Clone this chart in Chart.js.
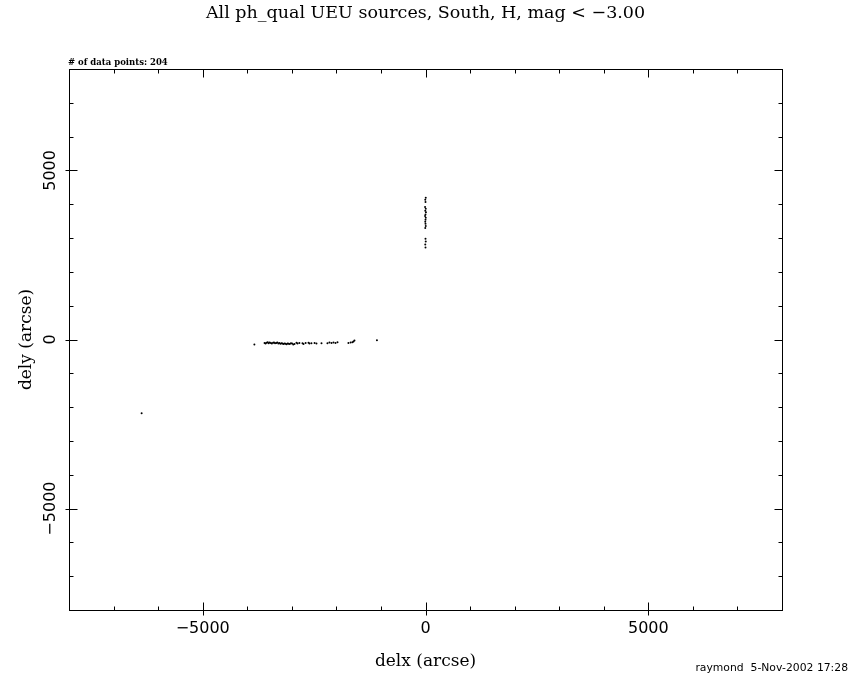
<!DOCTYPE html>
<html>
<head>
<meta charset="utf-8">
<script src="https://cdn.jsdelivr.net/npm/chart.js@4.4.1/dist/chart.umd.min.js"></script>
<style>
  html, body { margin: 0; padding: 0; background: #fff; }
  #wrap { width: 850px; height: 680px; }
</style>
</head>
<body>
<div id="wrap"><canvas id="grafico"></canvas></div>
<script>
// source offsets (arcsec)
const delx = [
  -6370,
  -3840, -3612, -3590, -3566, -3541, -3520, -3497, -3470, -3448, -3421, -3400, -3376,
  -3350, -3327, -3301, -3280, -3255, -3232, -3210, -3188, -3163, -3140, -3118, -3092,
  -3070, -3046, -3020, -2995, -2968, -2940, -2895, -2872, -2830, -2760, -2738, -2690,
  -2625, -2604, -2560, -2490, -2447, -2334, -2200, -2155, -2110, -2065, -2020, -1975,
  -1730, -1680, -1640, -1616, -1594, -1090,
  5, -5, 0, -10, 5, -5, 10, 0, -10, 5, 0, -5, 0, 5, -5, 0, 5, -5, 0
];
const dely = [
  -2180,
  -150, -105, -120, -95, -85, -110, -90, -100, -120, -95, -88, -110,
  -105, -90, -115, -100, -125, -110, -120, -135, -115, -128, -140, -118,
  -125, -130, -110, -120, -145, -130, -95, -120, -105, -110, -130, -100,
  -95, -120, -110, -100, -120, -110, -110, -90, -100, -90, -100, -80,
  -100, -90, -80, -60, -30, -20,
  4190, 4130, 4070, 3920, 3870, 3810, 3760, 3700, 3650, 3600, 3540, 3480, 3420, 3360, 3300, 2980, 2900, 2810, 2720
];

const tituloGrafico = 'All ph_qual UEU sources, South, H, mag < \u22123.00';
const tituloX = 'delx (arcse)';
const tituloY = 'dely (arcse)';
const notaPontos = '# of data points: 204';
const notaAutor = 'raymond  5-Nov-2002 17:28';
const limites = [-8000, 8000];
const passoTick = 1000;
const passoRotulo = 5000;

function rotulo(v) {
  return v % passoRotulo === 0 ? String(v).replace('-', '\u2212') : '';
}

const pontos = delx.map((x, i) => ({ x: x, y: dely[i] }));

// frame with inward ticks on all four sides, y labels rotated, title and notes
const molduraPlugin = {
  id: 'moldura',
  afterDraw(chart) {
    const ctx = chart.ctx;
    const a = chart.chartArea;
    const sx = chart.scales.x;
    const sy = chart.scales.y;
    const L = Math.round(a.left) + 0.5, R = Math.round(a.right) + 0.5;
    const T = Math.round(a.top) + 0.5, B = Math.round(a.bottom) + 0.5;
    ctx.save();
    ctx.strokeStyle = '#000';
    ctx.lineWidth = 1;
    ctx.strokeRect(L, T, R - L, B - T);
    ctx.beginPath();
    sx.ticks.forEach(t => {
      const px = Math.round(sx.getPixelForValue(t.value)) + 0.5;
      const maior = t.value % passoRotulo === 0;
      const len = maior ? 8 : 4;
      ctx.moveTo(px, B + (maior ? 5 : 0)); ctx.lineTo(px, B - len);
      ctx.moveTo(px, T); ctx.lineTo(px, T + len);
    });
    sy.ticks.forEach(t => {
      const py = Math.round(sy.getPixelForValue(t.value)) + 0.5;
      const maior = t.value % passoRotulo === 0;
      const len = maior ? 8 : 4;
      ctx.moveTo(L - (maior ? 4 : 0), py); ctx.lineTo(L + len, py);
      ctx.moveTo(R, py); ctx.lineTo(R - len, py);
    });
    ctx.stroke();

    ctx.fillStyle = '#000';
    ctx.font = '16px "DejaVu Sans"';
    ctx.textAlign = 'center';
    ctx.textBaseline = 'middle';
    sy.ticks.forEach(t => {
      const txt = rotulo(t.value);
      if (!txt) return;
      ctx.save();
      ctx.translate(a.left - 18, sy.getPixelForValue(t.value));
      ctx.rotate(-Math.PI / 2);
      ctx.fillText(txt, 0, 0);
      ctx.restore();
    });

    ctx.font = '17.5px "DejaVu Serif"';
    ctx.fillText(tituloGrafico, (a.left + a.right) / 2, 13);

    ctx.font = 'bold 8.5px "DejaVu Serif"';
    ctx.textAlign = 'left';
    ctx.textBaseline = 'alphabetic';
    ctx.fillText(notaPontos, a.left - 1, a.top - 4);

    ctx.font = '10.8px "DejaVu Sans"';
    ctx.textAlign = 'right';
    ctx.fillText(notaAutor, 848, 671);
    ctx.restore();
  }
};

new Chart(document.getElementById('grafico').getContext('2d'), {
  type: 'scatter',
  data: {
    datasets: [{
      label: 'UEU sources',
      data: pontos,
      backgroundColor: '#000',
      borderWidth: 0,
      pointRadius: 1,
      pointHoverRadius: 1
    }]
  },
  options: {
    responsive: true,
    maintainAspectRatio: false,
    animation: false,
    layout: { padding: { left: 0, right: 68, top: 69, bottom: 0 } },
    plugins: {
      legend: { display: false },
      tooltip: { enabled: false },
      title: { display: false }
    },
    scales: {
      x: {
        type: 'linear',
        min: limites[0],
        max: limites[1],
        grid: { display: false, drawTicks: false },
        border: { display: false },
        ticks: {
          stepSize: passoTick,
          maxTicksLimit: 20,
          autoSkip: false,
          maxRotation: 0,
          padding: 9,
          color: '#000',
          font: { family: 'DejaVu Sans', size: 16 },
          callback: v => rotulo(v)
        },
        title: {
          display: true,
          text: tituloX,
          color: '#000',
          font: { family: 'DejaVu Serif', size: 17, lineHeight: 1.2 },
          padding: { top: 0, bottom: 8 }
        },
        afterFit(scale) { scale.height = 70; }
      },
      y: {
        type: 'linear',
        min: limites[0],
        max: limites[1],
        grid: { display: false, drawTicks: false },
        border: { display: false },
        ticks: {
          stepSize: passoTick,
          maxTicksLimit: 20,
          display: false
        },
        title: {
          display: true,
          text: tituloY,
          color: '#000',
          font: { family: 'DejaVu Serif', size: 17, lineHeight: 1.2 },
          padding: { top: 16, bottom: 0 }
        },
        afterFit(scale) { scale.width = 69; }
      }
    }
  },
  plugins: [molduraPlugin]
});
</script>
</body>
</html>
